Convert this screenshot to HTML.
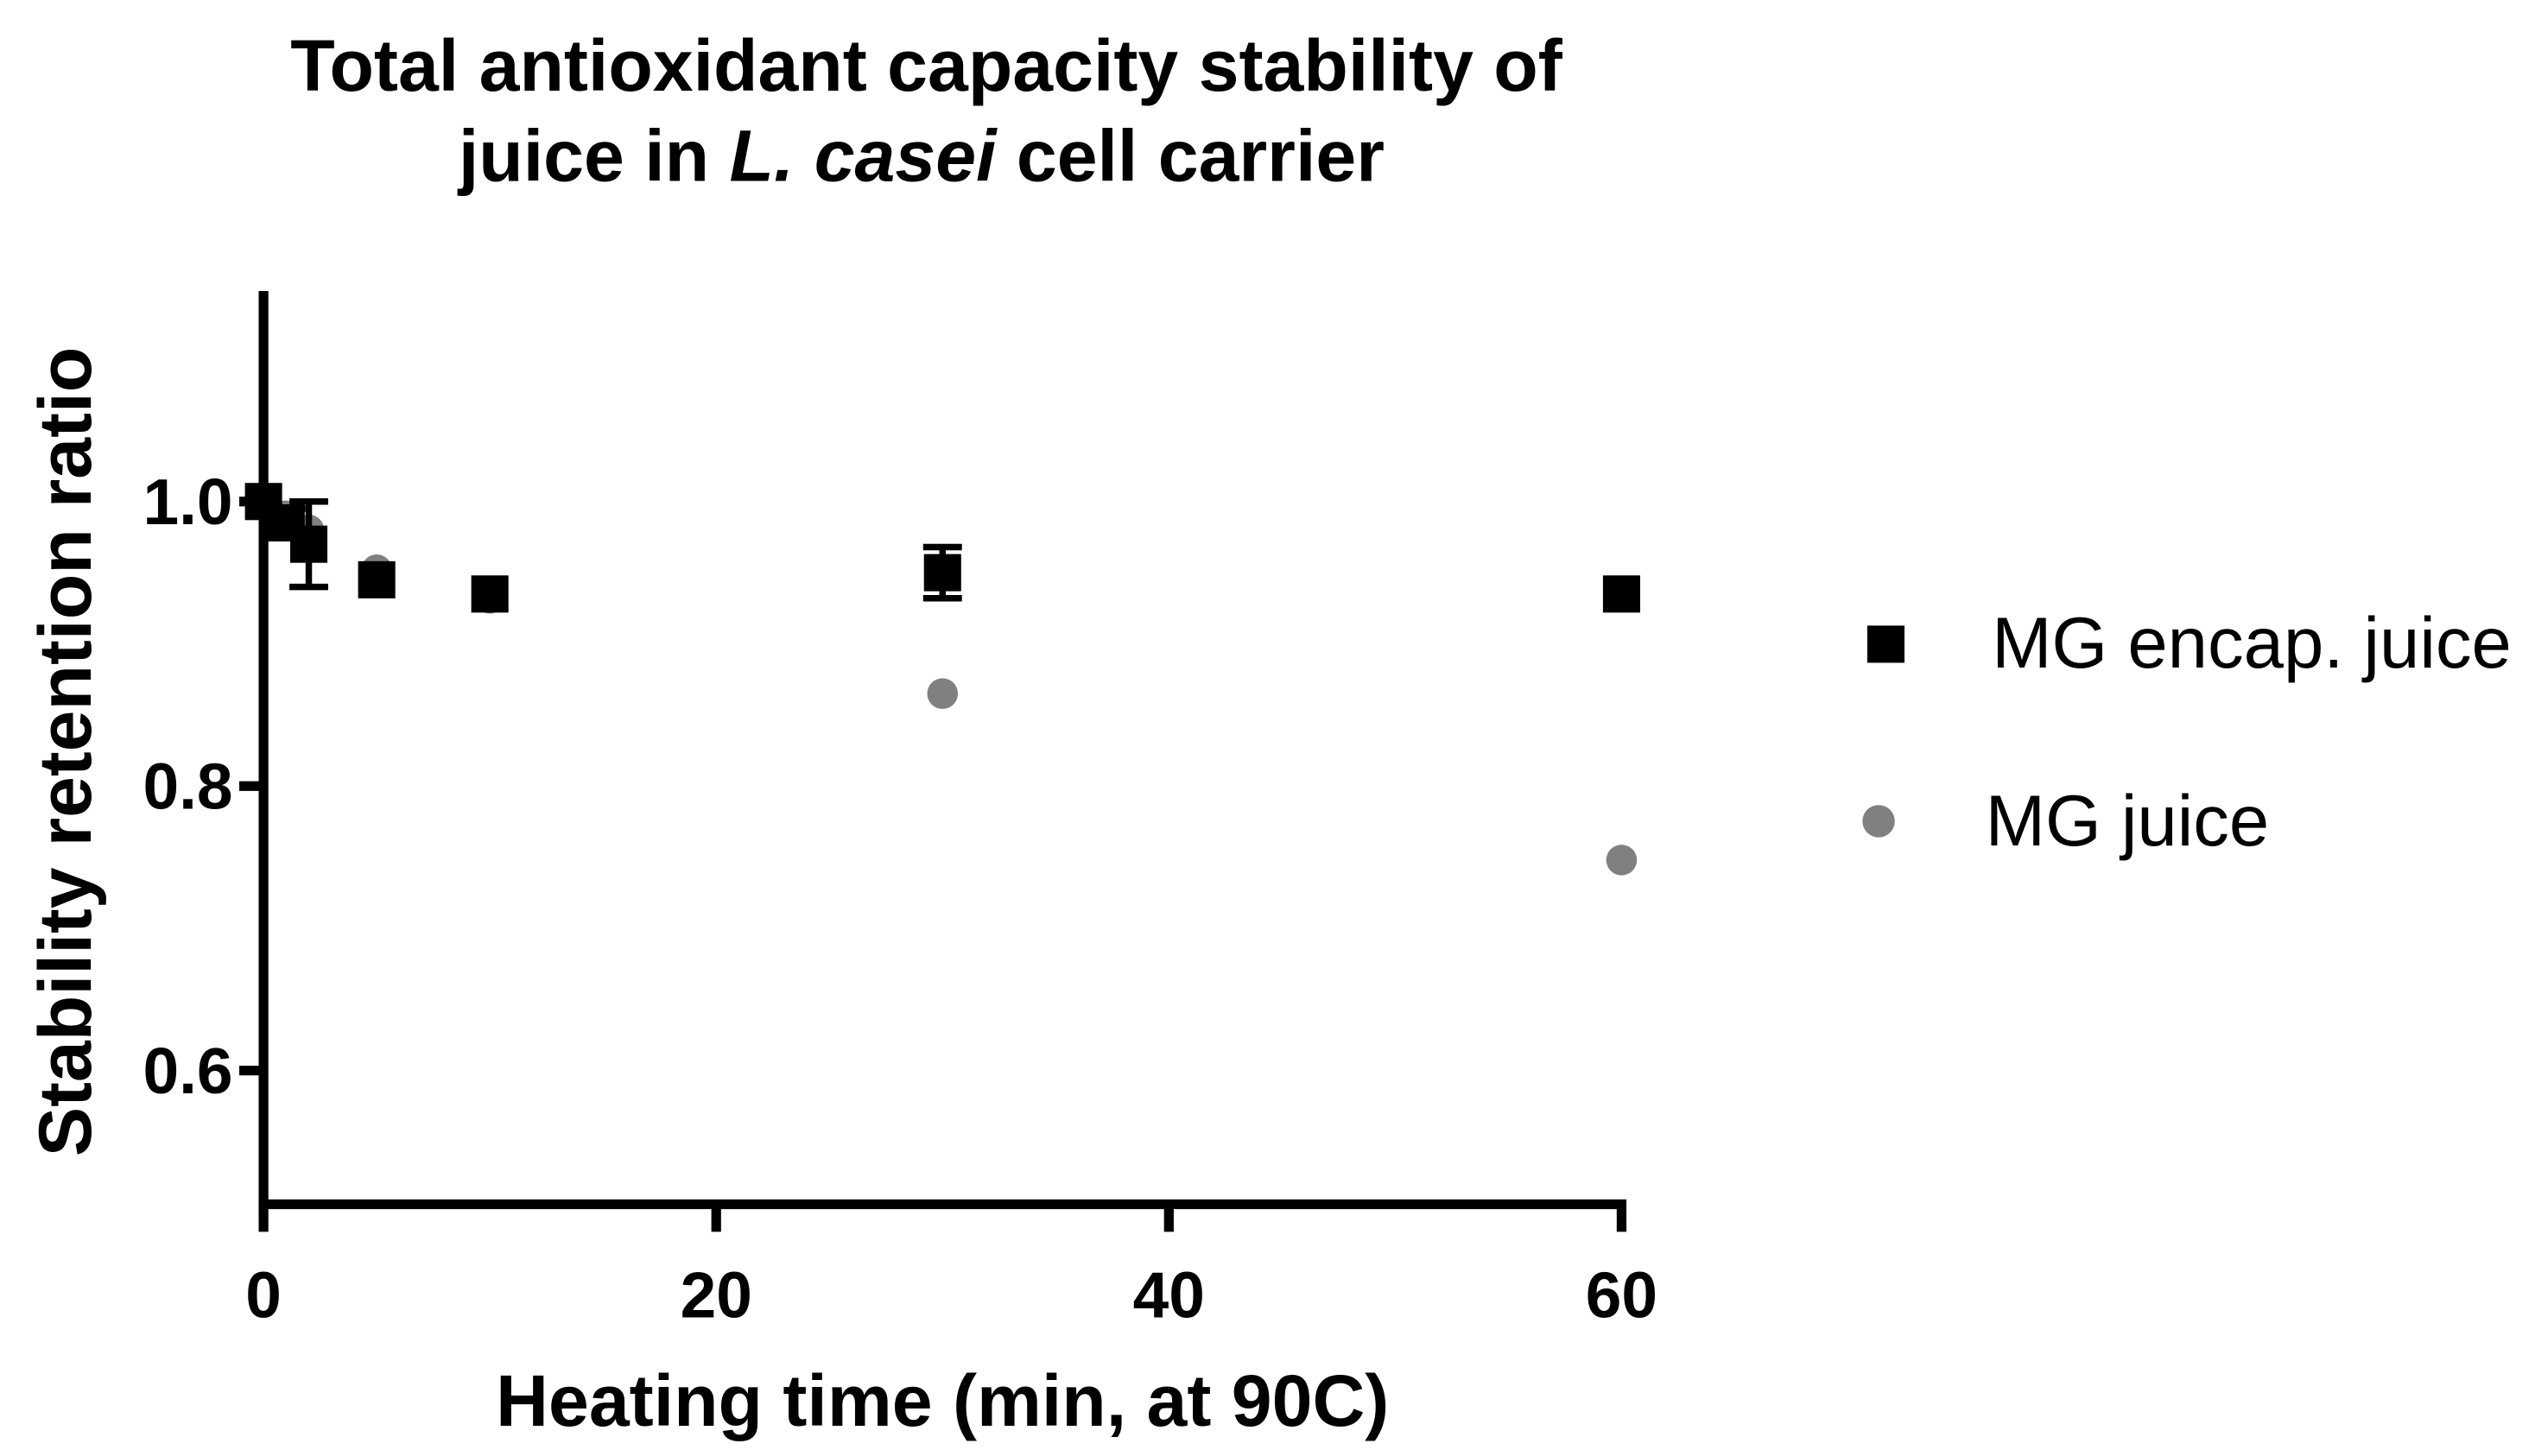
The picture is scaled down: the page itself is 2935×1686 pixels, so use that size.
<!DOCTYPE html>
<html><head><meta charset="utf-8"><style>html,body{margin:0;padding:0;background:#fff}svg{display:block}</style></head>
<body>
<svg id="chart" width="2935" height="1686" viewBox="0 0 1568 900.7" xmlns="http://www.w3.org/2000/svg" font-family="'Liberation Sans', Arial, sans-serif">
<text x="573" y="56" font-size="45" font-weight="bold" text-anchor="middle">Total antioxidant capacity stability of</text>
<text x="570" y="112" font-size="45" font-weight="bold" text-anchor="middle">juice in <tspan font-style="italic">L. casei</tspan> cell carrier</text>
<g id="axes"></g>
<g id="marks"></g>
<text x="583" y="882" font-size="45" font-weight="bold" text-anchor="middle">Heating time (min, at 90C)</text>
<text transform="translate(56,465) rotate(-90)" font-size="46" font-weight="bold" text-anchor="middle">Stability retention ratio</text>
<rect x="1155" y="387" width="23" height="23" fill="#000"/>
<text x="1232" y="413" font-size="44.5">MG encap. juice</text>
<circle cx="1162" cy="508" r="10" fill="#808080"/>
<text x="1228" y="523" font-size="44.5">MG juice</text>
</svg>
<script>
const times = [0, 1, 2, 5, 10, 30, 60];
const encapValues = [1.0, 0.985, 0.97, 0.945, 0.935, 0.95, 0.935];
const encapErrors = [0, 0.01, 0.03, 0, 0, 0.018, 0];
const juiceValues = [1.0, 0.99, 0.98, 0.952, 0.932, 0.865, 0.748];
const xTicks = [0, 20, 40, 60];
const yTicks = [0.6, 0.8, 1.0];
const yTickLabels = ["0.6", "0.8", "1.0"];

const NS = "http://www.w3.org/2000/svg";
const X0 = 163, X1 = 1003, Y0 = 745, Y1 = 180;
const xMin = 0, xMax = 60, yMin = 0.506, yMax = 1.148;
const sx = v => X0 + (v - xMin) / (xMax - xMin) * (X1 - X0);
const sy = v => Y0 - (v - yMin) / (yMax - yMin) * (Y0 - Y1);
function mk(tag, attrs, parent) {
  const e = document.createElementNS(NS, tag);
  for (const k in attrs) e.setAttribute(k, attrs[k]);
  parent.appendChild(e);
  return e;
}
const axes = document.getElementById('axes');
const marks = document.getElementById('marks');
let e = mk('line', {x1: X0, y1: Y1, x2: X0, y2: Y0 + 3, stroke: '#000', 'stroke-width': 6}, axes);


e = mk('line', {x1: X0 - 3, y1: Y0, x2: X1 + 3, y2: Y0, stroke: '#000', 'stroke-width': 6}, axes);


yTicks.forEach((t, i) => {
  const y = sy(t);
  let l = mk('line', {x1: X0 - 15, y1: y, x2: X0, y2: y, stroke: '#000', 'stroke-width': 6}, axes);
  
  
  let tx = mk('text', {x: X0 - 19, y: y + 14, 'font-size': 40, 'font-weight': 'bold', 'text-anchor': 'end'}, axes);
  tx.textContent = yTickLabels[i];
  
  
});
xTicks.forEach(t => {
  const x = sx(t);
  let l = mk('line', {x1: x, y1: Y0, x2: x, y2: Y0 + 17, stroke: '#000', 'stroke-width': 6}, axes);
  
  
  let tx = mk('text', {x: x, y: Y0 + 70, 'font-size': 40, 'font-weight': 'bold', 'text-anchor': 'middle'}, axes);
  tx.textContent = String(t);
  
  
});
times.forEach((t, i) => {
  let c = mk('circle', {cx: sx(t), cy: sy(juiceValues[i]), r: 9.5, fill: '#808080'}, marks);
  
  
});
times.forEach((t, i) => {
  const x = sx(t), y = sy(encapValues[i]);
  if (encapErrors[i] > 0) {
    const yt = sy(encapValues[i] + encapErrors[i]), yb = sy(encapValues[i] - encapErrors[i]);
    let g = mk('path', {d: `M${x},${yt}V${yb}M${x-12},${yt}H${x+12}M${x-12},${yb}H${x+12}`, stroke: '#000', 'stroke-width': 4, fill: 'none'}, marks);
    
    
  }
  let r = mk('rect', {x: x - 11.5, y: y - 11.5, width: 23, height: 23, fill: '#000'}, marks);
  
  
});
</script>
</body></html>
